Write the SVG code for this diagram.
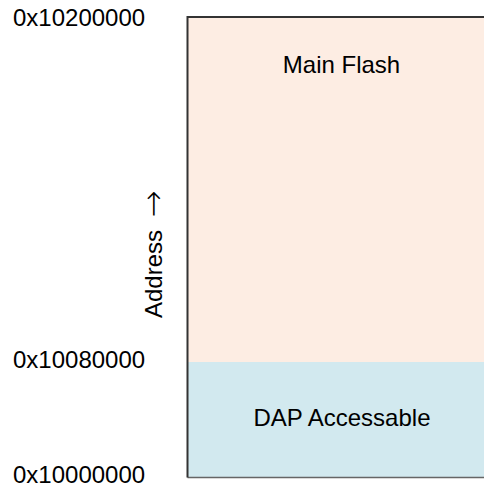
<svg xmlns="http://www.w3.org/2000/svg" width="484" height="491" viewBox="0 0 484 491">
<style>
text{font-family:"Liberation Sans",Arial,sans-serif;font-size:24px;fill:#000}
.c{text-anchor:middle}
.arr{font-family:"DejaVu Sans",sans-serif;font-size:32px;font-weight:300}
</style>
<rect width="484" height="491" fill="#fff"/>
<g id="main-flash">
<rect x="187.5" y="17" width="320" height="345" fill="#fdede3"/>
<text class="c" x="341.5" y="73">Main Flash</text>
</g>
<g id="dap">
<rect x="187.5" y="362" width="320" height="115.5" fill="#d2e9ef"/>
<text class="c" x="342" y="426">DAP Accessable</text>
</g>
<g id="frame" fill="none">
<path d="M187.5 477.5 H490" stroke="#666" stroke-width="1.5"/>
<path d="M187.5 477.5 V17 H490" stroke="#333" stroke-width="2"/>
</g>
<g id="labels">
<text x="13" y="26">0x10200000</text>
<text x="13" y="368">0x10080000</text>
<text x="13" y="483">0x10000000</text>
<text transform="translate(162 318) rotate(-90)">Address <tspan class="arr" dx="6" dy="2">→</tspan></text>
</g>
<g id="connectors"/>
</svg>
